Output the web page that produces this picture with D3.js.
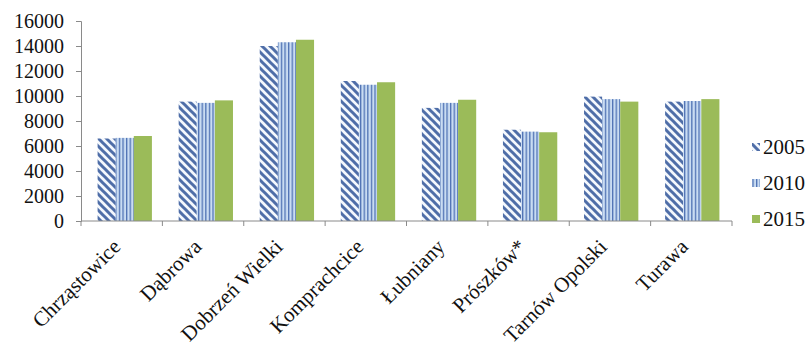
<!DOCTYPE html>
<html>
<head>
<meta charset="utf-8">
<script src="https://cdn.jsdelivr.net/npm/d3@7"></script>
<style>
  html, body { margin: 0; padding: 0; background: #fff; }
  svg { display: block; }
  text { font-family: "Liberation Serif", "Times New Roman", serif; fill: #111; }
</style>
</head>
<body>
<svg id="chart" width="811" height="349"></svg>
<script>
// Population of communes, 2005 / 2010 / 2015
const categories = ["Chrząstowice", "Dąbrowa", "Dobrzeń Wielki", "Komprachcice",
                    "Łubniany", "Prószków*", "Tarnów Opolski", "Turawa"];
const years = ["2005", "2010", "2015"];
const values2005 = [6600, 9550, 14000, 11200, 9050, 7300, 9950, 9550];
const values2010 = [6650, 9450, 14300, 10900, 9450, 7150, 9750, 9600];
const values2015 = [6800, 9650, 14500, 11100, 9700, 7100, 9550, 9750];
const yTicks = [0, 2000, 4000, 6000, 8000, 10000, 12000, 14000, 16000];

const series = [values2005, values2010, values2015];
const fills = ["url(#diag)", "url(#vert)", "#9bbb59"];

const svg = d3.select("#chart");
const margin = { left: 81, right: 79, top: 21, bottom: 128 };
const W = 811, H = 349;

// Patterns for the first two series
const defs = svg.append("defs");
const diag = defs.append("pattern").attr("id", "diag")
  .attr("patternUnits", "userSpaceOnUse").attr("width", 8).attr("height", 8);
diag.append("rect").attr("width", 8).attr("height", 8).attr("fill", "#f4f8fd");
diag.append("path")
  .attr("d", "M0,0L8,8M-4,4L4,12M4,-4L12,4")
  .attr("stroke", "#4f6ea8").attr("stroke-width", 3);

const vert = defs.append("pattern").attr("id", "vert")
  .attr("patternUnits", "userSpaceOnUse").attr("width", 3.6).attr("height", 8);
vert.append("rect").attr("width", 3.6).attr("height", 8).attr("fill", "#c9dcf2");
vert.append("rect").attr("x", 0).attr("width", 1.3).attr("height", 8).attr("fill", "#4f72b4");

const x = d3.scaleBand().domain(categories)
  .range([margin.left, W - margin.right]).paddingInner(0.33).paddingOuter(0.18);
const xs = d3.scaleBand().domain(years).range([0, x.bandwidth()]);
const y = d3.scaleLinear().domain([0, 16000]).range([H - margin.bottom, margin.top]);

// Bars
years.forEach((yr, si) => {
  svg.append("g").selectAll("rect")
    .data(categories.map((c, i) => ({ c, v: series[si][i] })))
    .join("rect")
    .attr("x", d => x(d.c) + xs(yr) + 2)
    .attr("y", d => y(d.v))
    .attr("width", xs.bandwidth())
    .attr("height", d => y(0) - y(d.v))
    .attr("fill", fills[si]);
});

// Y axis
const yAxis = svg.append("g")
  .attr("transform", `translate(${margin.left},0)`)
  .call(d3.axisLeft(y).tickValues(yTicks).tickSize(5).tickPadding(12).tickFormat(d3.format("d")));
yAxis.selectAll("line, path").attr("stroke", "#8a8a8a");
yAxis.selectAll("text").attr("font-size", 20).style("font-family", "Liberation Serif");

// X axis line with ticks at category boundaries
const x0 = margin.left, x1 = W - margin.right;
const step = (x1 - x0) / categories.length;
const bounds = d3.range(categories.length + 1).map(i => x0 + i * step);
svg.append("line").attr("x1", x0).attr("x2", x1)
  .attr("y1", y(0)).attr("y2", y(0)).attr("stroke", "#8a8a8a");
svg.append("g").selectAll("line").data(bounds).join("line")
  .attr("x1", d => d).attr("x2", d => d)
  .attr("y1", y(0)).attr("y2", y(0) + 5).attr("stroke", "#8a8a8a");

// Category labels, rotated
svg.append("g").selectAll("text").data(categories).join("text")
  .attr("transform", d => `translate(${x(d) + x.bandwidth() / 2 - 1},${y(0) + 27}) rotate(-45)`)
  .attr("text-anchor", "end")
  .attr("font-size", 21)
  .text(d => d);

// Legend
const legend = svg.append("g");
const legendY = [147, 183, 219];
years.forEach((yr, i) => {
  legend.append("rect")
    .attr("x", 752).attr("y", legendY[i] - 4)
    .attr("width", 8).attr("height", 8)
    .attr("fill", fills[i]);
  legend.append("text")
    .attr("x", 763).attr("y", legendY[i] + 7)
    .attr("font-size", 21)
    .text(yr);
});
</script>
</body>
</html>
